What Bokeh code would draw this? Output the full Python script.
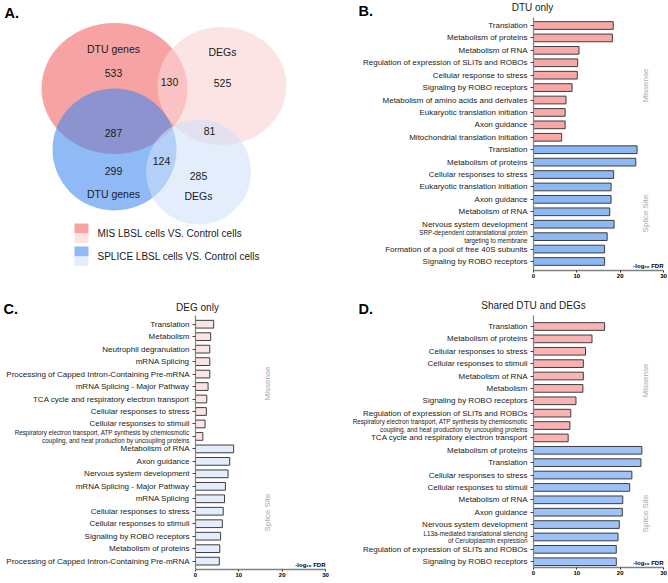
import numpy as np
from bokeh.plotting import figure
from bokeh.models import Range1d, FixedTicker, ColumnDataSource, LabelSet, Label
from bokeh.layouts import row, column
from bokeh.embed import file_html
from bokeh.resources import INLINE
from bokeh.core.properties import value

FONT = "Liberation Sans"

# ------------------------------------------------------------------ data
# Panel A (Venn)
venn_set_labels = ["DTU genes", "DEGs", "DTU genes", "DEGs"]
venn_region_names = ["MIS DTU only", "MIS DTU & DEG", "MIS DEG only", "DTU shared",
                     "DEG shared", "SPLICE DTU & DEG", "SPLICE DTU only", "SPLICE DEG only"]
venn_counts = [533, 130, 525, 287, 81, 124, 299, 285]
legend_labels = ["MIS LBSL cells VS. Control cells", "SPLICE LBSL cells VS. Control cells"]

# Panel B  (DTU only)
b_missense_terms = ["Translation", "Metabolism of proteins", "Metabolism of RNA",
                    "Regulation of expression of SLITs and ROBOs", "Cellular response to stress",
                    "Signaling by ROBO receptors", "Metabolism of amino acids and derivates",
                    "Eukaryotic translation initiation", "Axon guidance",
                    "Mitochondrial translation initiation"]
b_missense_vals = [18.4, 18.2, 10.5, 10.2, 10.1, 8.9, 7.5, 7.3, 7.3, 6.5]
b_splice_terms = ["Translation", "Metabolism of proteins", "Cellular responses to stress",
                  "Eukaryotic translation initiation", "Axon guidance", "Metabolism of RNA",
                  "Nervous system development",
                  "SRP-dependent cotranslational protein\ntargeting to membrane",
                  "Formation of a pool of free 40S subunits", "Signaling by ROBO receptors"]
b_splice_vals = [23.9, 23.6, 18.5, 17.9, 17.9, 17.6, 18.6, 17.0, 16.4, 16.4]

# Panel C  (DEG only)
c_missense_terms = ["Translation", "Metabolism", "Neutrophil degranulation", "mRNA Splicing",
                    "Processing of Capped Intron-Containing Pre-mRNA",
                    "mRNA Splicing - Major Pathway",
                    "TCA cycle and respiratory electron transport",
                    "Cellular responses to stress", "Cellular responses to stimuli",
                    "Respiratory electron transport, ATP synthesis by chemiosmotic\ncoupling, and heat production by uncoupling proteins"]
c_missense_vals = [4.2, 3.5, 3.3, 3.3, 3.3, 2.9, 2.6, 2.5, 2.2, 1.7]
c_splice_terms = ["Metabolism of RNA", "Axon guidance", "Nervous system development",
                  "mRNA Splicing - Major Pathway", "mRNA Splicing",
                  "Cellular responses to stress", "Cellular responses to stimuli",
                  "Signaling by ROBO receptors", "Metabolism of proteins",
                  "Processing of Capped Intron-Containing Pre-mRNA"]
c_splice_vals = [8.8, 7.9, 7.5, 6.9, 6.7, 6.4, 6.2, 5.8, 5.6, 5.5]

# Panel D  (Shared DTU and DEGs)
d_missense_terms = ["Translation", "Metabolism of proteins", "Cellular responses to stress",
                    "Cellular responses to stimuli", "Metabolism of RNA", "Metabolism",
                    "Signaling by ROBO receptors",
                    "Regulation of expression of SLITs and ROBOs",
                    "Respiratory electron transport, ATP synthesis by chemiosmotic\ncoupling, and heat production by uncoupling proteins",
                    "TCA cycle and respiratory electron transport"]
d_missense_vals = [16.4, 13.5, 12.0, 11.5, 11.5, 11.4, 9.8, 8.6, 8.4, 8.0]
d_splice_terms = ["Metabolism of proteins", "Translation", "Cellular responses to stress",
                  "Cellular responses to stimuli", "Metabolism of RNA", "Axon guidance",
                  "Nervous system development",
                  "L13a-mediated translational silencing\nof Ceruloplasmin expression",
                  "Regulation of expression of SLITs and ROBOs", "Signaling by ROBO receptors"]
d_splice_vals = [25.0, 24.8, 22.7, 22.2, 20.6, 20.5, 19.8, 19.5, 19.1, 19.1]

group_names = ["Missense", "Splice Site"]
x_ticks = [0, 10, 20, 30]
x_axis_title = "-log\u2081\u2080 FDR"

# ------------------------------------------------------------------ styles
OUTLINE = "#3d3d3d"
AXIS_GRAY = "#808080"
SIDE_GRAY = "#a8a8a8"

TOP_H, BOT_H = 288, 295
LEFT_W, RIGHT_W = 330, 338

# ------------------------------------------------------------------ Panel A
pA = figure(width=LEFT_W, height=TOP_H, x_range=Range1d(0, LEFT_W),
            y_range=Range1d(TOP_H, 0), output_backend="svg", toolbar_location=None,
            min_border=0, outline_line_color=None)
pA.axis.visible = False
pA.grid.visible = False

# ellipse layout (pixel-like coordinates): x, y, w, h, colour, alpha
venn_shapes = [
    (114, 88, 146, 131, "#F7A3A3", 1.0),
    (221.5, 85.5, 129, 118, "#FCD5D5", 0.63),
    (114, 149, 124, 122, "#3E88EE", 0.58),
    (198, 171.5, 105, 105, "#CFDFF9", 0.57),
]
for (cx, cy, w, h, col, a) in venn_shapes:
    pA.ellipse(x=[cx], y=[cy], width=[w], height=[h], fill_color=col, fill_alpha=a,
               line_color=None)

set_label_pos = [(113, 48), (222, 51), (113, 193), (198, 195)]
count_pos = [(113, 72), (169, 81), (222, 82), (113, 132), (209, 130), (161, 160),
             (113, 170), (198, 175)]
pA.text(x=[p[0] for p in set_label_pos], y=[p[1] for p in set_label_pos],
        text=venn_set_labels, text_font=value(FONT), text_font_size="10.5px",
        text_align="center", text_baseline="middle", text_color="#1a1a1a")
pA.text(x=[p[0] for p in count_pos], y=[p[1] for p in count_pos],
        text=[str(c) for c in venn_counts], text_font=value(FONT), text_font_size="10.5px",
        text_align="center", text_baseline="middle", text_color="#1a1a1a")

# legend swatches
sw = dict(left=[74, 74, 74, 74], right=[88, 88, 88, 88],
          top=[223, 233, 246, 256], bottom=[233, 242.5, 256, 265.5],
          color=["#F7A3A3", "#FDE4E4", "#8FBAF5", "#E4EDFC"])
pA.quad(left="left", right="right", top="top", bottom="bottom", fill_color="color",
        line_color=None, source=ColumnDataSource(sw))
pA.text(x=[97, 97], y=[233, 255.5], text=legend_labels, text_font=value(FONT),
        text_font_size="10px", text_align="left", text_baseline="middle",
        text_color="#1a1a1a")
pA.text(x=[4], y=[12], text=["A."], text_font=value(FONT), text_font_size="14.5px",
        text_font_style="bold", text_align="left", text_baseline="middle",
        text_color="black")


# ------------------------------------------------------------------ bar panels
def bar_panel(fig_w, fig_h, x0, x30, y_first, row_h, top_px, axis_px,
              mis_terms, mis_vals, spl_terms, spl_vals, mis_color, spl_color,
              title, title_xy, title_size, letter, letter_xy, mis_xy, spl_xy):
    scale = (x30 - x0) / 30.0

    def dx(px):
        return (px - x0) / scale

    def dy(py):
        return (py - y_first) / row_h

    p = figure(width=fig_w, height=fig_h, x_range=Range1d(dx(0), dx(fig_w)),
               y_range=Range1d(dy(fig_h), dy(0)),
               output_backend="svg", toolbar_location=None,
               min_border=0, outline_line_color=None)
    p.grid.visible = False

    terms = list(mis_terms) + list(spl_terms)
    vals = list(mis_vals) + list(spl_vals)
    cols = [mis_color] * len(mis_vals) + [spl_color] * len(spl_vals)
    rows = list(range(len(terms)))

    src = ColumnDataSource(dict(y=rows, right=vals, color=cols))
    p.hbar(y="y", left=0, right="right", height=0.62, fill_color="color",
           line_color=OUTLINE, line_width=1, source=src)

    # x axis, pinned at the bottom of the bars
    xa = p.xaxis[0]
    xa.fixed_location = dy(axis_px)
    xa.bounds = (0, 30)
    xa.ticker = FixedTicker(ticks=x_ticks)
    xa.minor_tick_line_color = None
    xa.major_tick_out = 2
    xa.major_tick_in = 0
    xa.major_tick_line_color = "#333333"
    xa.axis_line_color = AXIS_GRAY
    xa.axis_line_width = 1.5
    xa.major_label_standoff = 1
    xa.major_label_text_font = FONT
    xa.major_label_text_font_size = "6px"
    xa.major_label_text_font_style = "bold"
    xa.major_label_text_color = "black"

    # y axis pinned at x = 0: ticks only, category names drawn as labels
    ya = p.yaxis[0]
    ya.fixed_location = 0
    ya.bounds = (min(dy(top_px), dy(axis_px)), max(dy(top_px), dy(axis_px)))
    ya.ticker = FixedTicker(ticks=rows)
    ya.major_label_overrides = {r: "" for r in rows}
    ya.major_label_text_font_size = "0px"
    ya.major_label_standoff = 0
    ya.minor_tick_line_color = None
    ya.major_tick_out = 3
    ya.major_tick_in = 0
    ya.major_tick_line_color = "#444444"
    ya.axis_line_color = AXIS_GRAY
    ya.axis_line_width = 1.2

    norm = [(r, t) for r, t in zip(rows, terms) if "\n" not in t]
    lab_src = ColumnDataSource(dict(x=[0] * len(norm), y=[r for r, _ in norm],
                                    text=[t for _, t in norm]))
    p.add_layout(LabelSet(x="x", y="y", text="text", source=lab_src, x_offset=-6,
                          text_align="right", text_baseline="middle",
                          text_font=value(FONT), text_font_size="8px",
                          text_color="#1a1a1a"))
    sx, sy, st = [], [], []
    for r, t in zip(rows, terms):
        if "\n" in t:
            lines = t.split("\n")
            for k, ln in enumerate(lines):
                sx.append(0)
                sy.append(r + (k - (len(lines) - 1) / 2) * 0.62)
                st.append(ln)
    if st:
        p.add_layout(LabelSet(x="x", y="y", text="text",
                              source=ColumnDataSource(dict(x=sx, y=sy, text=st)),
                              x_offset=-6, text_align="right", text_baseline="middle",
                              text_font=value(FONT), text_font_size="6.3px",
                              text_color="#1a1a1a"))

    # side group labels
    for name, (px, py) in zip(group_names, [mis_xy, spl_xy]):
        p.add_layout(Label(x=dx(px), y=dy(py), text=name, angle=np.pi / 2,
                           text_align="center", text_baseline="middle",
                           text_font=FONT, text_font_size="8px", text_color=SIDE_GRAY))

    # title & panel letter
    p.add_layout(Label(x=dx(title_xy[0]), y=dy(title_xy[1]), text=title,
                       text_align="center", text_baseline="middle",
                       text_font=FONT, text_font_size=title_size, text_color="#1a1a1a"))
    p.add_layout(Label(x=dx(letter_xy[0]), y=dy(letter_xy[1]), text=letter,
                       text_align="left", text_baseline="middle",
                       text_font=FONT, text_font_size="14.5px", text_font_style="bold",
                       text_color="black"))
    # axis title
    p.add_layout(Label(x=30, y=dy(axis_px - 1.5), text=x_axis_title,
                       text_align="right", text_baseline="bottom",
                       text_font=FONT, text_font_size="6px", text_font_style="bold",
                       text_color="black"))
    return p


pB = bar_panel(RIGHT_W, TOP_H, x0=203, x30=333, y_first=25, row_h=12.42,
               top_px=17, axis_px=270,
               mis_terms=b_missense_terms, mis_vals=b_missense_vals,
               spl_terms=b_splice_terms, spl_vals=b_splice_vals,
               mis_color="#F9A8A8", spl_color="#8DB8F6",
               title="DTU only", title_xy=(202, 6.5), title_size="10px",
               letter="B.", letter_xy=(28, 10), mis_xy=(315, 85), spl_xy=(315, 213))

pC = bar_panel(LEFT_W, BOT_H, x0=195, x30=325, y_first=35.7, row_h=12.47,
               top_px=27, axis_px=281,
               mis_terms=c_missense_terms, mis_vals=c_missense_vals,
               spl_terms=c_splice_terms, spl_vals=c_splice_vals,
               mis_color="#FDE4E4", spl_color="#E4EDFB",
               title="DEG only", title_xy=(197, 19), title_size="10px",
               letter="C.", letter_xy=(3, 20), mis_xy=(267, 95), spl_xy=(267, 224))

pD = bar_panel(RIGHT_W, BOT_H, x0=203, x30=333, y_first=38, row_h=12.38,
               top_px=27, axis_px=279,
               mis_terms=d_missense_terms, mis_vals=d_missense_vals,
               spl_terms=d_splice_terms, spl_vals=d_splice_vals,
               mis_color="#F9B3B3", spl_color="#9CC2F7",
               title="Shared DTU and DEGs", title_xy=(203, 17), title_size="10px",
               letter="D.", letter_xy=(28, 20), mis_xy=(315, 92), spl_xy=(315, 225))

layout = column(row(pA, pB), row(pC, pD))

open("out.html", "w").write(file_html(layout, INLINE))
